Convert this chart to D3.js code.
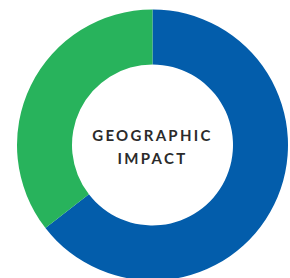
<!DOCTYPE html>
<html>
<head>
<meta charset="utf-8">
<script src="https://cdn.jsdelivr.net/npm/d3@7"></script>
<style>
  body { margin: 0; background: #fff; }
  text { font-family: Lato, "Open Sans", sans-serif; }
</style>
</head>
<body>
<svg id="mainsvg" width="290" height="278"></svg>
<script>
  const categories = ['Blue', 'Green'];
  const values = [64.5, 35.5];
  const colors = ['#035DAB', '#28B35C'];
  const titleLines = ['GEOGRAPHIC', 'IMPACT'];

  const svg = d3.select('#mainsvg');
  const cx = 152.5, cy = 145;
  const outerR = 135.5, innerR = 80.5;

  const data = categories.map((c, i) => ({ name: c, value: values[i], color: colors[i] }));
  const pie = d3.pie().value(d => d.value).sort(null);
  const arc = d3.arc().innerRadius(innerR).outerRadius(outerR);

  const g = svg.append('g').attr('transform', `translate(${cx},${cy})`);
  g.selectAll('path').data(pie(data)).join('path')
    .attr('d', arc)
    .attr('fill', d => d.data.color);

  g.selectAll('.title').data(titleLines).join('text')
    .attr('class', 'title')
    .attr('x', 0)
    .attr('y', (d, i) => -4 + i * 22.5)
    .attr('text-anchor', 'middle')
    .attr('font-size', 15)
    .attr('font-weight', 700)
    .attr('letter-spacing', 2.3)
    .attr('fill', '#2b2b2b')
    .text(d => d);
</script>
</body>
</html>
